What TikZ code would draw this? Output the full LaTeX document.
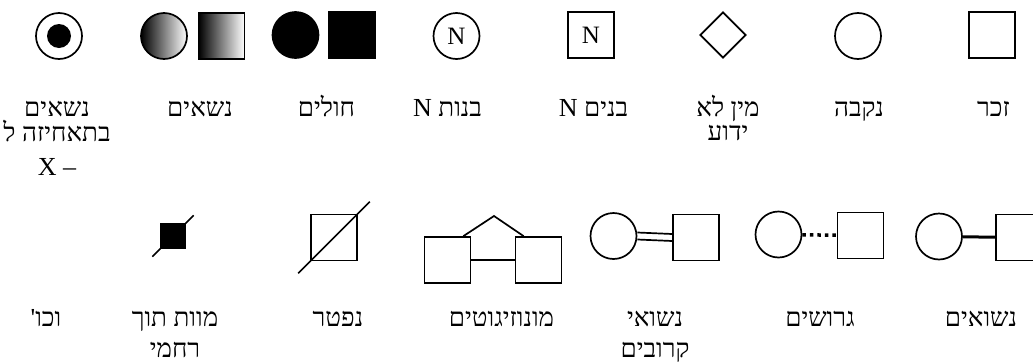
\documentclass[tikz,border=0pt]{standalone}
\usepackage{fontspec}
\setmainfont{Liberation Serif}
\newfontfamily\hebfont[Script=Hebrew]{Liberation Serif}
\TeXXeTstate=1
\usetikzlibrary{shapes.geometric}

\begin{document}
\begin{tikzpicture}[
    x=1pt, y=-1pt,
    line width=1.7pt,
    font=\fontsize{25}{30}\selectfont,
    sq/.style={draw, rectangle, minimum size=46pt, inner sep=0pt},
    ci/.style={draw, circle, minimum size=46pt, inner sep=0pt},
    lbl/.style={font=\fontsize{26}{26}\selectfont\hebfont, align=center, anchor=base, inner sep=0pt},
]
\useasboundingbox (0,0) rectangle (1033,362);

% row 1: symbols
\node[ci] (carX) at (59,36) {};
\node[circle, fill=black, minimum size=24pt, inner sep=0pt] (carXdot) at (carX) {};
\node[ci, left color=black, right color=white] (shadeF) at (164,36) {};
\node[sq, left color=black, right color=white] (shadeM) at (221.5,36) {};
\node[ci, fill=black] (affF) at (295.5,35) {};
\node[sq, fill=black] (affM) at (352,35) {};
\node[ci] (nF) at (456.5,36) {N};
\node[sq] (nM) at (591,35) {N};
\node[diamond, draw, minimum width=46pt, minimum height=46pt, inner sep=0pt] (unk) at (723,35) {};
\node[ci] (fem) at (858,36) {};
\node[sq] (male) at (992,35) {};

% row 1: labels (base = last line)
\node[lbl] (lCarX) at (57,175) {\beginR נשאים\endR\\[-1pt]\beginR בתאחיזה ל\endR\\[7.5pt]\beginR – X\endR};
\node[lbl] (lCar) at (200,116.5) {\beginR נשאים\endR};
\node[lbl] (lAff) at (326.5,116.5) {\beginR חולים\endR};
\node[lbl] (lnF) at (447.5,116.5) {\beginR בנות N\endR};
\node[lbl] (lnM) at (593.5,116.5) {\beginR בנים N\endR};
\node[lbl] (lUnk) at (728,140) {\beginR מין לא\endR\\[-2.5pt]\beginR ידוע\endR};
\node[lbl] (lFem) at (859,116.5) {\beginR נקבה\endR};
\node[lbl] (lMale) at (993.5,116.5) {\beginR זכר\endR};

% row 2: symbols
\node[sq, fill=black, minimum size=24pt] (stillb) at (173,236) {};
\draw[shorten <=-11pt, shorten >=-11pt] (stillb.south west) -- (stillb.north east);
\node[sq] (dec) at (334,237.5) {};
\draw[shorten <=-17pt, shorten >=-17pt] (dec.south west) -- (dec.north east);

\node[sq] (twL) at (447.5,260) {};
\node[sq] (twR) at (538.5,260) {};
\coordinate (apex) at (494,216);
\draw ([xshift=-8pt]twL.north east) -- (apex) -- ([xshift=9pt]twR.north west);
\draw (twL) -- (twR);

\node[ci] (consF) at (613.5,236) {};
\node[sq] (consM) at (696,237.5) {};
\draw ([yshift=3.5pt]consF.east) -- ([yshift=3.5pt]consM.west);
\draw ([yshift=-3.5pt]consF.east) -- ([yshift=-3.5pt]consM.west);

\node[ci] (divF) at (778.5,234.5) {};
\node[sq] (divM) at (860.5,235.5) {};
\draw[line width=3.5pt, dash pattern=on 3.5pt off 4pt] (divF) -- (divM);

\node[ci] (marF) at (939,236.5) {};
\node[sq] (marM) at (1019,237.5) {};
\draw[line width=3pt] (marF) -- (marM);

% row 2: labels
\node[lbl] (lEtc) at (46,326) {\beginR וכו'\endR};
\node[lbl] (lStillb) at (175,357) {\beginR מוות תוך\endR\\[5pt]\beginR רחמי\endR};
\node[lbl] (lDec) at (338,326) {\beginR נפטר\endR};
\node[lbl] (lTw) at (501.5,326) {\beginR מונוזיגוטים\endR};
\node[lbl] (lCons) at (655,357) {\beginR נשואי\endR\\[5pt]\beginR קרובים\endR};
\node[lbl] (lDiv) at (820,326) {\beginR גרושים\endR};
\node[lbl] (lMar) at (981,326) {\beginR נשואים\endR};

\end{tikzpicture}
\end{document}
